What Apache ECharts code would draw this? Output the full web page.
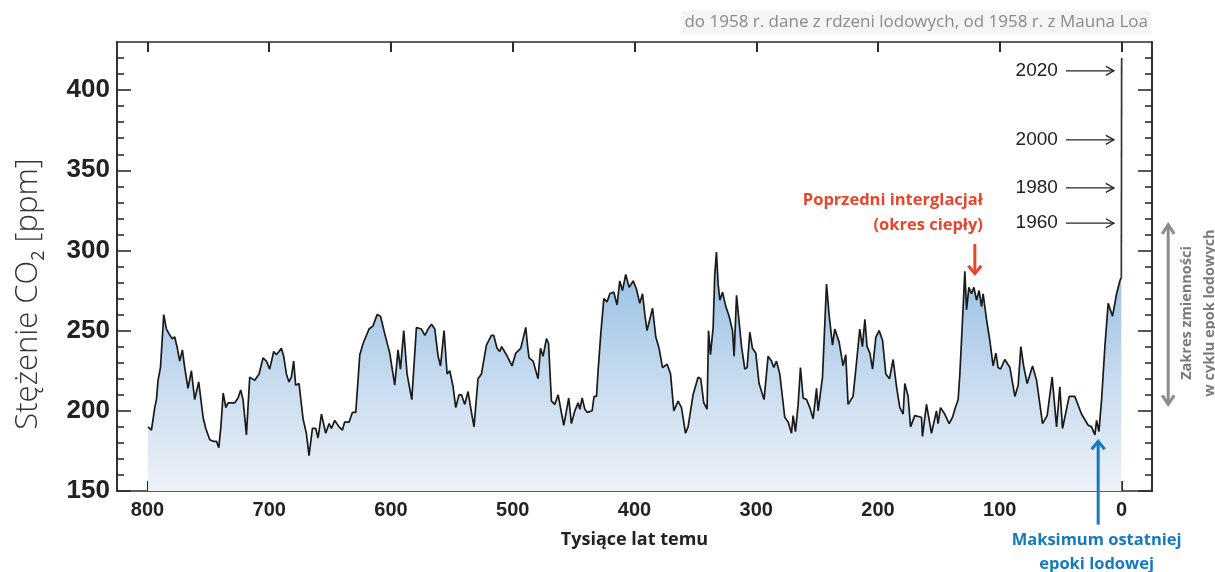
<!DOCTYPE html>
<html>
<head>
<meta charset="utf-8">
<script src="https://cdn.jsdelivr.net/npm/echarts@6/dist/echarts.min.js"></script>
<style>
  html, body { margin: 0; padding: 0; background: #fff; }
  #chart { width: 1215px; height: 572px; }
</style>
</head>
<body>
<div id="chart"></div>
<script>
// age in thousands of years before present, CO2 in ppm (ice cores)
var ages = [799.5, 796.7, 794, 792.6, 791.3, 789.3, 786.6, 784.4, 782.2, 779.8, 777.6, 775.7, 773.5, 771.3, 769.4, 766.7, 763.9, 761.2, 757.9, 754.3,
  752.1, 748.8, 746.1, 743.3, 741.4, 739.7, 737.8, 735.6, 733.8, 728.3, 725.6, 723.4, 721.5, 718.7, 716, 711.9, 708.3, 705.1, 702.3, 699.6,
  696.3, 694.1, 692, 690, 688.1, 685.9, 683.8, 681.8, 679.9, 678.3, 675.5, 672.2, 669.5, 667.3, 664.5, 661.8, 659.9, 657.1, 653.6, 650.8,
  648.9, 646.2, 642.6, 639.9, 638, 634.4, 631.7, 628.9, 625.6, 622.9, 618, 614.7, 611.4, 608.6, 605.1, 601, 596.9, 594.2, 592.2, 589.5,
  586.8, 582.9, 579.1, 575, 572.2, 569.5, 566.7, 564, 561.3, 559.3, 556.4, 553.9, 551.7, 549, 546.8, 544.1, 542.1, 539.4, 536.7, 533.9,
  531.8, 528.5, 525.7, 521.6, 517.5, 515.6, 512.9, 510.7, 509.1, 505.2, 500.6, 497.5, 493.4, 491.5, 489.3, 487.9, 486.6, 483.3, 479.2, 477.2,
  475.1, 472.3, 470.6, 468.2, 465.5, 462.7, 460.8, 458.1, 455.9, 454, 451.8, 449, 446.3, 444.9, 443, 440.8, 438.6, 434.8, 433.2, 431.2,
  429.9, 427.7, 425.2, 422.5, 420.3, 417, 414.3, 412.1, 409.9, 407.2, 404.4, 401.1, 398.4, 395.7, 393.4, 391.5, 389.7, 385.2, 382.5, 379.8,
  377, 373.2, 370.4, 367.7, 364.2, 361.4, 358.1, 356, 351.9, 347.8, 345.6, 343.1, 340.4, 339.2, 337.6, 335.4, 334.1, 332.7, 331.3, 329.9,
  327.7, 325, 322.3, 319.5, 318.2, 316.2, 314.3, 312.1, 309.4, 307.5, 305.3, 303.1, 300.4, 297.7, 293.6, 290.3, 287.5, 285.6, 283.4, 280.7,
  276.6, 273.8, 271.1, 269.7, 267.8, 265.6, 263.7, 261.5, 258.7, 256, 253.3, 251.9, 250.5, 249.2, 245.6, 242.3, 240.2, 237.4, 235.5, 232,
  228.7, 226.5, 224.6, 220.5, 217.7, 215, 212.8, 210.8, 209, 206.7, 204.5, 201.8, 199.1, 196.3, 193.6, 190.6, 187.6, 184.8, 182.1, 179.4,
  178, 175.3, 173.3, 169.8, 164.3, 163.5, 160.2, 156.1, 152, 150.7, 148.7, 145.2, 141.6, 138.8, 136.9, 134.2, 132.8, 130.6, 128.7, 127.3,
  125.4, 123.2, 121.3, 119.1, 117, 115, 113.7, 110.9, 108.2, 105.5, 103.2, 101.4, 99.4, 95.9, 91.7, 87.6, 84.9, 82.7, 80.2, 77.5,
  73.1, 69.8, 64.9, 61.1, 57, 53.4, 50.7, 48.5, 43, 38.4, 32.9, 27.4, 24.6, 21.9, 20.5, 18.6, 16.4, 13.7, 11, 7.4,
  4.1, 1.4, 0.2];
var co2 = [190, 188, 202, 207, 219, 227, 260, 251, 248, 245, 246, 240, 231, 238, 227, 214, 225, 207, 218, 196,
  189, 182, 181, 181, 177, 190, 211, 202, 205, 205, 208, 213, 207, 185, 221, 219, 223, 233, 231, 226,
  237, 235, 237, 239, 234, 223, 218, 221, 231, 216, 217, 195, 186, 172, 189, 189, 183, 198, 186, 192,
  189, 194, 190, 188, 193, 193, 199, 199, 235, 242, 251, 253, 260, 259, 248, 236, 216, 238, 226, 250,
  223, 207, 252, 251, 247, 251, 254, 251, 234, 228, 250, 223, 225, 215, 202, 210, 210, 204, 212, 199,
  190, 220, 223, 241, 247, 247, 239, 237, 240, 235, 228, 236, 239, 245, 252, 241, 233, 231, 220, 239,
  234, 245, 242, 206, 204, 210, 202, 191, 200, 208, 192, 200, 205, 201, 208, 201, 199, 200, 209, 209,
  225, 248, 270, 268, 273, 274, 266, 281, 275, 285, 277, 281, 276, 267, 273, 260, 250, 264, 246, 239,
  227, 229, 223, 200, 206, 202, 186, 190, 210, 221, 220, 205, 201, 250, 235, 252, 285, 299, 279, 269,
  274, 265, 259, 250, 234, 272, 257, 240, 226, 227, 249, 239, 236, 217, 207, 234, 231, 227, 231, 223,
  196, 193, 186, 197, 187, 204, 227, 208, 207, 202, 195, 196, 214, 200, 221, 279, 260, 241, 251, 243,
  228, 235, 204, 209, 230, 251, 240, 257, 240, 236, 226, 246, 250, 244, 223, 220, 232, 215, 202, 198,
  217, 209, 190, 197, 196, 184, 204, 186, 200, 192, 202, 198, 192, 196, 201, 207, 223, 257, 287, 263,
  277, 273, 277, 269, 275, 265, 273, 257, 244, 228, 236, 227, 226, 232, 227, 209, 216, 240, 227, 217,
  228, 219, 192, 197, 221, 190, 215, 189, 209, 209, 198, 191, 190, 185, 194, 187, 207, 240, 267, 259,
  273, 281, 283];
// instrumental era (Mauna Loa), drawn as a vertical line at age 0
var modernAges = [0.2, -0.07];
var modernCo2 = [283, 420];

var xTicks = [0, 100, 200, 300, 400, 500, 600, 700, 800];
var yMajorTicks = [150, 200, 250, 300, 350, 400];
var yMinorTicks = [160, 170, 180, 190, 210, 220, 230, 240, 260, 270, 280, 290, 310, 320, 330, 340, 360, 370, 380, 390, 410, 420];

var yearLabels = ['2020', '2000', '1980', '1960'];
var yearCo2 = [412, 369, 339, 317];

function zip(a, b) {
  var out = [];
  for (var i = 0; i < a.length; i++) out.push([a[i], b[i]]);
  return out;
}

var ink = '#2b2b2b';
var axisLineStyle = { color: ink, width: 1.6 };

function xAxisDef(pos, withLabels) {
  return {
    type: 'value', min: -25, max: 825, inverse: true, position: pos,
    axisLine: { show: true, onZero: false, lineStyle: axisLineStyle },
    axisTick: { show: true, inside: true, length: 10, customValues: xTicks, lineStyle: { color: ink, width: 2 } },
    axisLabel: {
      show: withLabels, customValues: xTicks, margin: 9,
      fontSize: 20, fontWeight: 'bold', color: '#222', fontFamily: '"Liberation Sans", Arial, sans-serif'
    },
    splitLine: { show: false },
    name: withLabels ? 'Tysiące lat temu' : '',
    nameLocation: 'middle', nameGap: 40,
    nameTextStyle: { fontSize: 18, fontWeight: 'bold', color: '#222', fontFamily: '"Open Sans", sans-serif' }
  };
}

function yAxisDef(pos, ticks, len, withLabels) {
  return {
    type: 'value', min: 150, max: 430, position: pos,
    axisLine: { show: true, onZero: false, lineStyle: axisLineStyle },
    axisTick: { show: true, inside: true, length: len, customValues: ticks, lineStyle: { color: ink, width: 1.6 } },
    axisLabel: {
      show: withLabels, customValues: ticks, margin: 7,
      fontSize: 26, fontWeight: 'bold', color: '#222', fontFamily: '"Liberation Sans", Arial, sans-serif'
    },
    splitLine: { show: false }
  };
}

var chart = echarts.init(document.getElementById('chart'));
var option = {
  animation: false,
  backgroundColor: '#fff',
  title: {
    text: 'do 1958 r. dane z rdzeni lodowych, od 1958 r. z Mauna Loa',
    right: 64, top: 11, padding: [3, 3],
    backgroundColor: '#f5f5f5',
    textStyle: { fontSize: 17, fontWeight: 'normal', color: '#8a8a8a', fontFamily: '"Open Sans", sans-serif' }
  },
  grid: { left: 117, right: 63, top: 42, bottom: 81, containLabel: false, outerBoundsMode: 'none' },
  xAxis: [xAxisDef('bottom', true), xAxisDef('top', false)],
  yAxis: [
    yAxisDef('left', yMajorTicks, 14, true),
    yAxisDef('left', yMinorTicks, 7, false),
    yAxisDef('right', yMajorTicks, 14, false),
    yAxisDef('right', yMinorTicks, 7, false)
  ],
  series: [
    {
      type: 'line', xAxisIndex: 0, yAxisIndex: 0,
      data: zip(ages, co2),
      symbol: 'none', smooth: false,
      lineStyle: { color: '#1a1a1a', width: 1.7 },
      areaStyle: {
        opacity: 1,
        color: new echarts.graphic.LinearGradient(0, 0, 0, 1, [
          { offset: 0, color: '#93bce2' },
          { offset: 0.5, color: '#c3d9ee' },
          { offset: 1, color: '#edf2f8' }
        ])
      }
    },
    {
      type: 'line', xAxisIndex: 0, yAxisIndex: 0,
      data: zip(modernAges, modernCo2),
      symbol: 'none',
      lineStyle: { color: '#333', width: 1.7 }
    }
  ]
};
chart.setOption(option);

function px(age, ppm) {
  return chart.convertToPixel({ xAxisIndex: 0, yAxisIndex: 0 }, [age, ppm]);
}

function arrow(p1, p2, color, width, headLen, headHalf, both) {
  var dx = p2[0] - p1[0], dy = p2[1] - p1[1];
  var l = Math.sqrt(dx * dx + dy * dy);
  var ux = dx / l, uy = dy / l, nx = -uy, ny = ux;
  function head(tip, sx, sy) {
    return {
      type: 'polyline', silent: true, z: 100,
      shape: { points: [
        [tip[0] - sx * headLen + nx * headHalf, tip[1] - sy * headLen + ny * headHalf],
        tip,
        [tip[0] - sx * headLen - nx * headHalf, tip[1] - sy * headLen - ny * headHalf]
      ] },
      style: { stroke: color, lineWidth: width, fill: null, lineJoin: 'miter' }
    };
  }
  var els = [{
    type: 'line', silent: true, z: 100,
    shape: { x1: p1[0], y1: p1[1], x2: p2[0], y2: p2[1] },
    style: { stroke: color, lineWidth: width }
  }, head(p2, ux, uy)];
  if (both) els.push(head(p1, -ux, -uy));
  return els;
}

function label(p, text, opts) {
  return {
    type: 'text', silent: true, z: 100, x: p[0], y: p[1], rotation: opts.rotation || 0,
    style: {
      text: text, fill: opts.color, align: opts.align || 'center', verticalAlign: 'middle',
      fontSize: opts.size, fontWeight: opts.weight || 'normal', fontFamily: opts.family || '"Open Sans", sans-serif'
    }
  };
}

var g = [];
// year arrows
for (var i = 0; i < yearLabels.length; i++) {
  g.push(label(px(52.3, yearCo2[i]), yearLabels[i], { color: '#222', size: 19, align: 'right', family: '"Liberation Sans", Arial, sans-serif' }));
  g = g.concat(arrow(px(45.7, yearCo2[i]), px(6.3, yearCo2[i]), '#222', 1.3, 8, 4.5));
}
// previous interglacial
var red = '#e8452c';
g.push(label(px(113.9, 331), 'Poprzedni interglacjał', { color: red, size: 16.5, weight: 'bold', align: 'right' }));
g.push(label(px(113.9, 315.5), '(okres ciepły)', { color: red, size: 16.5, weight: 'bold', align: 'right' }));
g = g.concat(arrow(px(120.5, 304), px(120.5, 285.5), red, 3, 8, 6.5));
// last glacial maximum
var blue = '#1579be';
g = g.concat(arrow(px(19.2, 129), px(19.2, 181), blue, 3, 8, 6.5));
g.push(label(px(20.5, 119.2), 'Maksimum ostatniej', { color: blue, size: 16.5, weight: 'bold' }));
g.push(label(px(20.5, 104.5), 'epoki lodowej', { color: blue, size: 16.5, weight: 'bold' }));
// glacial cycle range
var grey = '#8c8c8c';
g = g.concat(arrow(px(-38.3, 204), px(-38.3, 316), grey, 3, 9, 6, true));
g.push(label(px(-53.9, 261), 'Zakres zmienności', { color: '#7a7a7a', size: 14.5, weight: 'bold', rotation: Math.PI / 2 }));
g.push(label(px(-72.5, 261), 'w cyklu epok lodowych', { color: '#7a7a7a', size: 14.5, weight: 'bold', rotation: Math.PI / 2 }));
// y axis title with subscript
g.push({
  type: 'text', silent: true, z: 100, x: 28, y: 294, rotation: Math.PI / 2,
  style: {
    text: 'Stężenie CO{sub|2} [ppm]',
    fill: '#333', align: 'center', verticalAlign: 'middle',
    fontSize: 31, fontWeight: 300, fontFamily: '"Open Sans", sans-serif', lineHeight: 40,
    rich: { sub: { fontSize: 18, lineHeight: 18, verticalAlign: 'bottom', fill: '#333', fontFamily: '"Open Sans", sans-serif' } }
  }
});

chart.setOption({ graphic: g });
</script>
</body>
</html>
